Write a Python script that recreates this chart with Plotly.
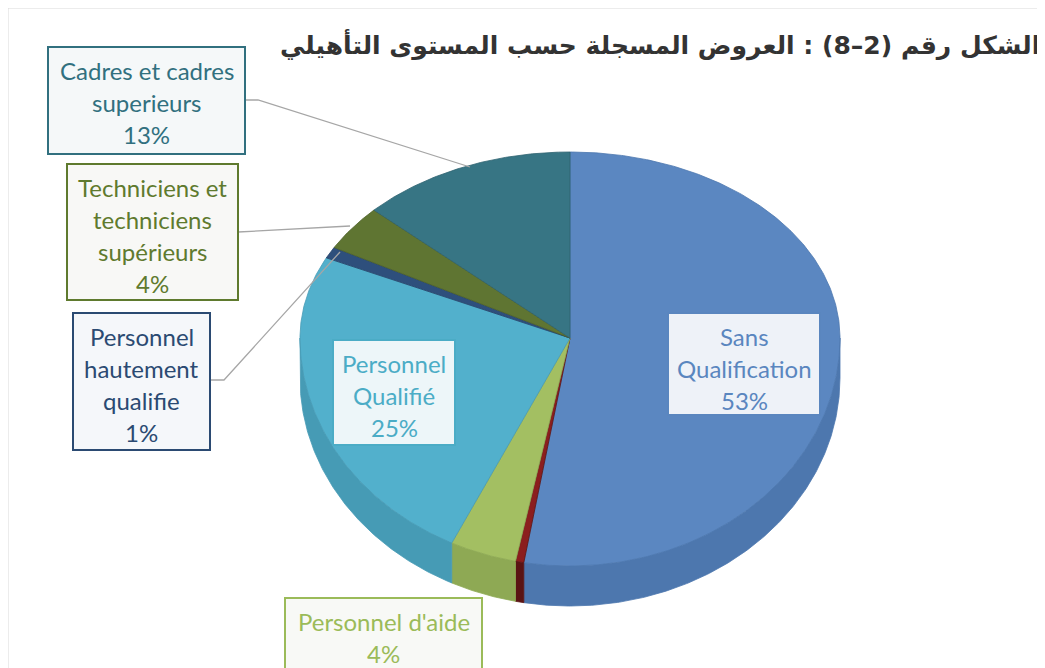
import math
import plotly.graph_objects as go

# ---- data ----
categories = ["Sans Qualification", "Autres", "Personnel d'aide", "Personnel Qualifié",
              "Personnel hautement qualifie", "Techniciens et techniciens supérieurs",
              "Cadres et cadres superieurs"]
values = [53, 0.5, 4, 25, 1, 4, 13]
label_lines = [["Sans", "Qualification"], None, ["Personnel d'aide"], ["Personnel", "Qualifié"],
               ["Personnel", "hautement", "qualifie"], ["Techniciens et", "techniciens", "supérieurs"],
               ["Cadres et cadres", "superieurs"]]
title_text = "الشكل رقم (2–8) : العروض المسجلة حسب المستوى التأهيلي"

top_colors = ["#5B87C1", "#8B1E1E", "#A3BF62", "#52B0CC", "#2E4F7C", "#5F7532", "#377584"]
wall_colors = ["#4D77AE", "#5A1414", "#8EA954", "#469BB5", "#25426A", "#4F6229", "#2D6270"]
text_colors = ["#5A86BF", None, "#9BBB59", "#4BACC6", "#2B4A72", "#5F7A2E", "#31707F"]
box_fill = ["#EEF2F8", None, "#F8F9F6", "#EDF6F9", "#F5F7FA", "#F8F8F6", "#F5F8F9"]
# label box rectangles (x0, y0, x1, y1) in page pixel space
boxes = [(668, 313, 820, 415), None, (285, 598, 482, 690), (333, 340, 455, 445),
         (73, 313, 210, 450), (67, 164, 238, 300), (48, 47, 245, 154)]
leaders = [None, None, None, None,
           [(210, 380), (224, 380), (340, 252)],
           [(238, 232), (350, 226)],
           [(245, 100), (258, 100), (470, 167)]]

W, H = 1045, 668
OFF = 8  # page body margin
cx, cy = 570, 338
rx, ry_top, ry_bot = 270, 186, 228
depth = 40


def pt(theta, dy=0):
    t = math.radians(theta)
    c = math.cos(t)
    ry = ry_top if c > 0 else ry_bot
    return cx + rx * math.sin(t), cy - ry * c + dy


def arc(a0, a1, dy=0):
    n = max(2, int(abs(a1 - a0) * 2) + 2)
    return [pt(a0 + (a1 - a0) * i / (n - 1), dy) for i in range(n)]


fig = go.Figure()
total = sum(values)
angles = []
a = 0.0
for v in values:
    angles.append((a, a + 360 * v / total))
    a += 360 * v / total

# walls (front half: 90..270 degrees)
for i, (a0, a1) in enumerate(angles):
    lo, hi = max(a0, 90), min(a1, 270)
    if hi <= lo:
        continue
    top = arc(lo, hi)
    bot = arc(hi, lo, depth)
    pts = top + bot + [top[0]]
    fig.add_trace(go.Scatter(x=[p[0] for p in pts], y=[p[1] for p in pts], fill="toself",
                             mode="lines", line=dict(color=wall_colors[i], width=0.8),
                             fillcolor=wall_colors[i], hoverinfo="skip", showlegend=False))

# top faces
for i, (a0, a1) in enumerate(angles):
    pts = [(cx, cy)] + arc(a0, a1) + [(cx, cy)]
    fig.add_trace(go.Scatter(x=[p[0] for p in pts], y=[p[1] for p in pts], fill="toself",
                             mode="lines", line=dict(color=wall_colors[i], width=0.8),
                             fillcolor=top_colors[i], hoverinfo="text",
                             text=f"{categories[i]}: {values[i]}%", showlegend=False))

shapes = [dict(type="rect", xref="x", yref="y", x0=8, y0=8, x1=1060, y1=700,
               line=dict(color="#D9D9D9", width=1), layer="below")]
annotations = []
for i in range(len(values)):
    if leaders[i]:
        path = "M " + " L ".join(f"{x},{y}" for x, y in leaders[i])
        shapes.append(dict(type="path", xref="x", yref="y", path=path,
                           line=dict(color="#A6A6A6", width=1.3)))
    if boxes[i] is None:
        continue
    x0, y0, x1, y1 = boxes[i]
    shapes.append(dict(type="rect", xref="x", yref="y", x0=x0, y0=y0, x1=x1, y1=y1,
                       line=dict(color=text_colors[i], width=2), fillcolor=box_fill[i]))
    lines = label_lines[i] + [f"{values[i]:.0f}%"]
    start = y0 + 23
    for k, ln in enumerate(lines):
        annotations.append(dict(x=(x0 + x1) / 2, y=start + 32.3 * k, xref="x", yref="y",
                                text=ln, showarrow=False, xanchor="center", yanchor="middle",
                                font=dict(family="Lato", size=24, color=text_colors[i])))

annotations.append(dict(x=1.0, y=45, xref="paper", yref="y", text=f"<b>{title_text}</b>",
                        showarrow=False, xanchor="right", yanchor="middle", xshift=-11,
                        font=dict(family="DejaVu Sans", size=25, color="#333333")))

fig.update_layout(width=W, height=H, margin=dict(l=0, r=0, t=0, b=0),
                  paper_bgcolor="white", plot_bgcolor="white",
                  xaxis=dict(range=[OFF, W + OFF], visible=False, fixedrange=True),
                  yaxis=dict(range=[H + OFF, OFF], visible=False, fixedrange=True),
                  shapes=shapes, annotations=annotations)
fig.write_html("out.html")
